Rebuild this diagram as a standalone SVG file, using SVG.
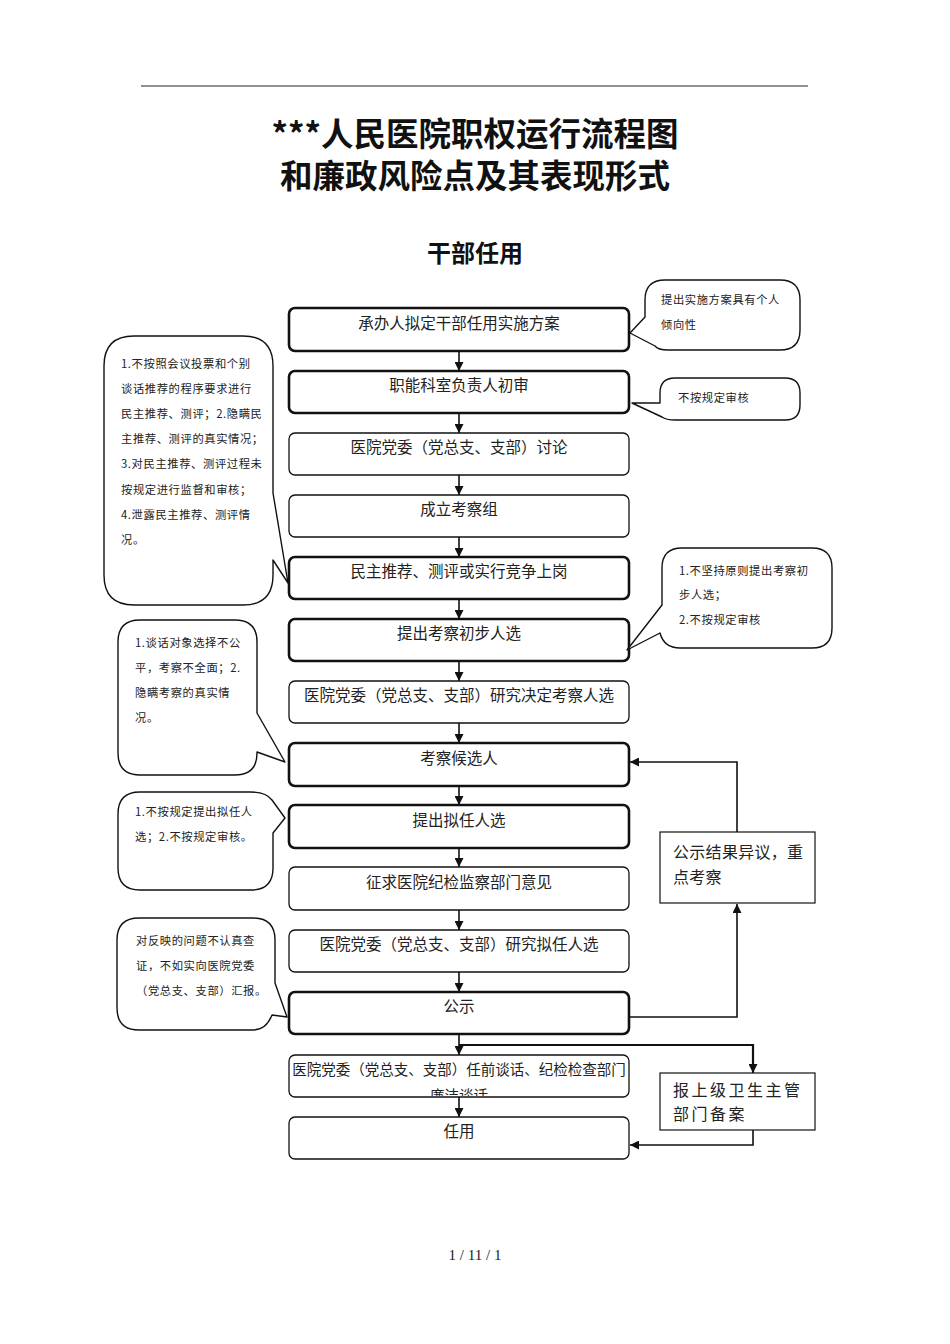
<svg xmlns="http://www.w3.org/2000/svg" width="950" height="1344" viewBox="0 0 950 1344">
<style>
.bx{fill:#fff;stroke:#111;}
.thk{stroke-width:2.6;}
.thn{stroke-width:1.3;}
.bt{font-family:"Noto Sans CJK SC","Noto Sans",sans-serif;font-size:15.5px;fill:#222;text-anchor:middle;}
.co{fill:#fff;stroke:#111;stroke-width:1.4;stroke-linejoin:round;}
.ct{font-family:"Noto Sans CJK SC","Noto Sans",sans-serif;font-size:11.3px;fill:#222;letter-spacing:0.6px;}
.sb{fill:#fff;stroke:#111;stroke-width:1.2;}
.st{font-family:"Noto Sans CJK SC","Noto Sans",sans-serif;font-size:16px;fill:#222;}
.ln{fill:none;stroke:#111;stroke-width:1.6;}
</style>
<defs>
<marker id="ah" viewBox="0 0 10 10" refX="10" refY="5" markerWidth="9" markerHeight="9" orient="auto" markerUnits="userSpaceOnUse"><path d="M0,0 L10,5 L0,10 z" fill="#111"/></marker>
<clipPath id="clip13"><rect x="289" y="1055" width="340" height="41"/></clipPath>
</defs>
<rect width="950" height="1344" fill="#fff"/>
<line x1="141" y1="86" x2="808" y2="86" stroke="#222" stroke-width="1"/>
<g id="title" font-family="'Noto Sans CJK SC',sans-serif" font-weight="700" fill="#111" text-anchor="middle">
<text x="475" y="146" font-size="32.5">***人民医院职权运行流程图<tspan x="475" dy="42">和廉政风险点及其表现形式</tspan></text>
<text x="475" y="262" font-size="24">干部任用</text>
</g>

<g id="connectors">
<line class="ln" x1="459" y1="351" x2="459" y2="371" marker-end="url(#ah)"/>
<line class="ln" x1="459" y1="413" x2="459" y2="433" marker-end="url(#ah)"/>
<line class="ln" x1="459" y1="475" x2="459" y2="495" marker-end="url(#ah)"/>
<line class="ln" x1="459" y1="537" x2="459" y2="557" marker-end="url(#ah)"/>
<line class="ln" x1="459" y1="599" x2="459" y2="619" marker-end="url(#ah)"/>
<line class="ln" x1="459" y1="661" x2="459" y2="681" marker-end="url(#ah)"/>
<line class="ln" x1="459" y1="723" x2="459" y2="743" marker-end="url(#ah)"/>
<line class="ln" x1="459" y1="786" x2="459" y2="805" marker-end="url(#ah)"/>
<line class="ln" x1="459" y1="848" x2="459" y2="867" marker-end="url(#ah)"/>
<line class="ln" x1="459" y1="910" x2="459" y2="930" marker-end="url(#ah)"/>
<line class="ln" x1="459" y1="972" x2="459" y2="992" marker-end="url(#ah)"/>
<line class="ln" x1="459" y1="1034" x2="459" y2="1055" marker-end="url(#ah)"/>
<line class="ln" x1="459" y1="1097" x2="459" y2="1117" marker-end="url(#ah)"/>
<polyline class="ln" points="629,1017 737,1017 737,904" marker-end="url(#ah)"/>
<polyline class="ln" points="737,832 737,762 630,762" marker-end="url(#ah)"/>
<polyline class="ln" style="stroke-width:2.2" points="459,1045 753,1045 753,1073" marker-end="url(#ah)"/>
<polyline class="ln" points="753,1130 753,1145 630,1145" marker-end="url(#ah)"/>
</g>

<g id="n1"><rect class="bx thk" x="289" y="308" width="340" height="43" rx="6"/><text class="bt" x="459" y="329">承办人拟定干部任用实施方案</text></g>
<g id="n2"><rect class="bx thk" x="289" y="371" width="340" height="42" rx="6"/><text class="bt" x="459" y="391">职能科室负责人初审</text></g>
<g id="n3"><rect class="bx thn" x="289" y="433" width="340" height="42" rx="6"/><text class="bt" x="459" y="453">医院党委（党总支、支部）讨论</text></g>
<g id="n4"><rect class="bx thn" x="289" y="495" width="340" height="42" rx="6"/><text class="bt" x="459" y="515">成立考察组</text></g>
<g id="n5"><rect class="bx thk" x="289" y="557" width="340" height="42" rx="6"/><text class="bt" x="459" y="577">民主推荐、测评或实行竞争上岗</text></g>
<g id="n6"><rect class="bx thk" x="289" y="619" width="340" height="42" rx="6"/><text class="bt" x="459" y="639">提出考察初步人选</text></g>
<g id="n7"><rect class="bx thn" x="289" y="681" width="340" height="42" rx="6"/><text class="bt" x="459" y="701">医院党委（党总支、支部）研究决定考察人选</text></g>
<g id="n8"><rect class="bx thk" x="289" y="743" width="340" height="43" rx="6"/><text class="bt" x="459" y="764">考察候选人</text></g>
<g id="n9"><rect class="bx thk" x="289" y="805" width="340" height="43" rx="6"/><text class="bt" x="459" y="826">提出拟任人选</text></g>
<g id="n10"><rect class="bx thn" x="289" y="867" width="340" height="43" rx="6"/><text class="bt" x="459" y="888">征求医院纪检监察部门意见</text></g>
<g id="n11"><rect class="bx thn" x="289" y="930" width="340" height="42" rx="6"/><text class="bt" x="459" y="950">医院党委（党总支、支部）研究拟任人选</text></g>
<g id="n12"><rect class="bx thk" x="289" y="992" width="340" height="42" rx="6"/><text class="bt" x="459" y="1012">公示</text></g>
<g id="n13"><rect class="bx thn" x="289" y="1055" width="340" height="42" rx="6"/><g clip-path="url(#clip13)"><text class="bt" x="459" y="1075" style="font-size:14.5px">医院党委（党总支、支部）任前谈话、纪检检查部门<tspan x="459" dy="26">廉洁谈话</tspan></text></g></g>
<g id="n14"><rect class="bx thn" x="289" y="1117" width="340" height="42" rx="6"/><text class="bt" x="459" y="1137">任用</text></g>

<g id="s1"><rect class="sb" x="660" y="832" width="155" height="71"/><text class="st" x="673" y="858" letter-spacing="0.3">公示结果异议，重</text><text class="st" x="673" y="883" letter-spacing="0.3">点考察</text></g>
<g id="s2"><rect class="sb" x="660" y="1073" width="155" height="57"/><text class="st" x="673" y="1096" letter-spacing="2.5">报上级卫生主管</text><text class="st" x="673" y="1120" letter-spacing="2.5">部门备案</text></g>

<g id="c1"><path class="co" d="M134,336 H243 Q273,336 273,366 V493 L288,583 L273,560 V575 Q273,605 243,605 H134 Q104,605 104,575 V366 Q104,336 134,336 Z"/>
<text class="ct" x="121" y="368">1.不按照会议投票和个别</text>
<text class="ct" x="121" y="393">谈话推荐的程序要求进行</text>
<text class="ct" x="121" y="418">民主推荐、测评；2.隐瞒民</text>
<text class="ct" x="121" y="443">主推荐、测评的真实情况；</text>
<text class="ct" x="121" y="468">3.对民主推荐、测评过程未</text>
<text class="ct" x="121" y="494">按规定进行监督和审核；</text>
<text class="ct" x="121" y="519">4.泄露民主推荐、测评情</text>
<text class="ct" x="121" y="544">况。</text></g>

<g id="c2"><path class="co" d="M665,280 H780 Q800,280 800,300 V330 Q800,350 780,350 H668 Q658,350 655,346 L630,333 L645,317 V300 Q645,280 665,280 Z"/>
<text class="ct" x="661" y="304">提出实施方案具有个人</text>
<text class="ct" x="661" y="329">倾向性</text></g>

<g id="c3"><path class="co" d="M675,378 H785 Q800,378 800,393 V405 Q800,420 785,420 H675 Q666,420 662,417 L632,403 L660,403 V393 Q660,378 675,378 Z"/>
<text class="ct" x="678" y="402">不按规定审核</text></g>

<g id="c4"><path class="co" d="M682,548 H812 Q832,548 832,568 V628 Q832,648 812,648 H680 Q664,648 660,633 L627,650 L662,605 V568 Q662,548 682,548 Z"/>
<text class="ct" x="679" y="575">1.不坚持原则提出考察初</text>
<text class="ct" x="679" y="599">步人选；</text>
<text class="ct" x="679" y="624">2.不按规定审核</text></g>

<g id="c5"><path class="co" d="M140,620 H235 Q257,620 257,642 V713 L285,762 L257,752 V753 Q257,775 235,775 H140 Q118,775 118,753 V642 Q118,620 140,620 Z"/>
<text class="ct" x="135" y="647">1.谈话对象选择不公</text>
<text class="ct" x="135" y="672">平，考察不全面；2.</text>
<text class="ct" x="135" y="697">隐瞒考察的真实情</text>
<text class="ct" x="135" y="722">况。</text></g>

<g id="c6"><path class="co" d="M140,792 H250 Q266,792 272,800 L285,818 L273,833 V868 Q273,890 251,890 H140 Q118,890 118,868 V814 Q118,792 140,792 Z"/>
<text class="ct" x="135" y="816">1.不按规定提出拟任人</text>
<text class="ct" x="135" y="841">选；2.不按规定审核。</text></g>

<g id="c7"><path class="co" d="M139,918 H253 Q275,918 275,940 V983 L287,1017 L272,1015 Q266,1030 253,1030 H139 Q117,1030 117,1008 V940 Q117,918 139,918 Z"/>
<text class="ct" x="136" y="945">对反映的问题不认真查</text>
<text class="ct" x="136" y="970">证，不如实向医院党委</text>
<text class="ct" x="136" y="995">（党总支、支部）汇报。</text></g>

<text x="475" y="1260" font-family="'Liberation Serif',serif" font-size="15" fill="#222" text-anchor="middle">1 / 11 / 1</text>
</svg>
